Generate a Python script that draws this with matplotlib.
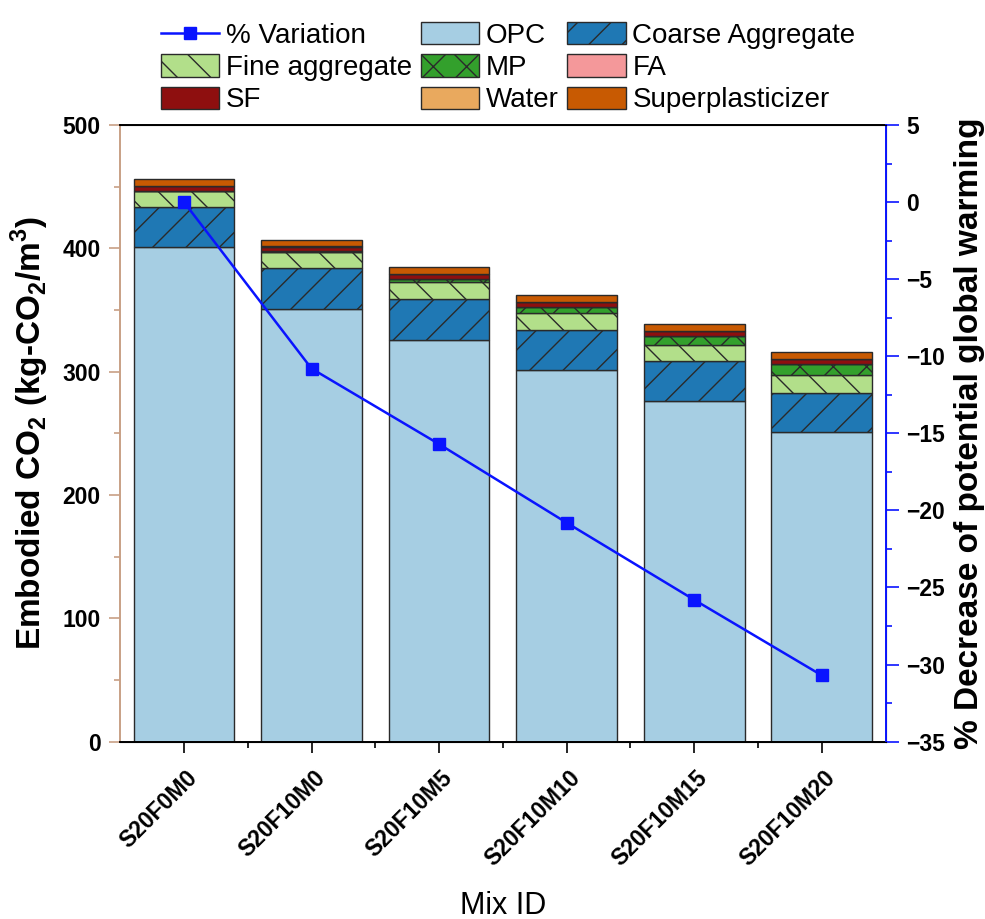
import numpy as np
import matplotlib
matplotlib.use("Agg")
import matplotlib.pyplot as plt
import matplotlib.transforms as mtransforms
from matplotlib.patches import Patch
from matplotlib.lines import Line2D
from matplotlib.ticker import MultipleLocator

plt.rcParams['font.family'] = ['Liberation Sans', 'DejaVu Sans']
plt.rcParams['mathtext.fontset'] = 'custom'
plt.rcParams['mathtext.rm'] = 'Liberation Sans'
plt.rcParams['mathtext.bf'] = 'Liberation Sans:bold'
plt.rcParams['hatch.linewidth'] = 1.0

# mixes
mix_ids = ["S20F0M0", "S20F10M0", "S20F10M5", "S20F10M10", "S20F10M15", "S20F10M20"]

# embodied CO2 per component (kg-CO2/m3)
opc = [401, 351, 326, 301, 276, 251]
coarse = [32.5, 32.7, 33, 33, 32.5, 32]
fine = [13.2, 13.5, 13.8, 13.5, 13.5, 14]
mp = [0, 0, 2.3, 4.6, 6.9, 9.2]
fa = [0, 0.4, 0.4, 0.4, 0.4, 0.4]
sf = [3.8, 3.8, 3.8, 3.8, 3.8, 3.8]
water = [0.2, 0.2, 0.2, 0.2, 0.2, 0.2]
superplast = [5.3, 5.3, 5.3, 5.3, 5.3, 5.3]

# % decrease of potential global warming
variation = [0, -10.8, -15.7, -20.8, -25.8, -30.7]

components = [
    ("OPC", opc, "#a6cee3", ""),
    ("Coarse Aggregate", coarse, "#1f78b4", "/"),
    ("Fine aggregate", fine, "#b2df8a", "\\"),
    ("MP", mp, "#33a02c", "x"),
    ("FA", fa, "#f4989a", ""),
    ("SF", sf, "#8e0f0f", ""),
    ("Water", water, "#e9a95e", ""),
    ("Superplasticizer", superplast, "#c85a02", ""),
]

fig = plt.figure(figsize=(9.85, 9.19), dpi=100)
ax = fig.add_axes([0.122, 0.193, 0.777, 0.671])

x = np.arange(len(mix_ids))
bottom = np.zeros(len(mix_ids))
handles = {}
for name, vals, color, hatch in components:
    vals = np.array(vals, dtype=float)
    ax.bar(x, vals, 0.79, bottom=bottom, color=color, edgecolor="#2a2a2a",
           linewidth=1.0, hatch=hatch, zorder=2)
    handles[name] = Patch(facecolor=color, edgecolor="#2a2a2a", hatch=hatch, linewidth=1.0)
    bottom += vals

tan = "#c8a085"
blue = "#0a14ff"

ax.set_xlim(-0.5, len(mix_ids) - 0.5)
ax.set_ylim(0, 500)
ax.yaxis.set_major_locator(MultipleLocator(100))
ax.yaxis.set_minor_locator(MultipleLocator(50))
ax.set_xticks(x)
ax.set_xticks(x[:-1] + 0.5, minor=True)
ax.set_xticklabels([])
# rotated mix labels, top-right corner a bit to the right of each tick
offset = mtransforms.ScaledTranslation(0.18, -0.25, fig.dpi_scale_trans)
for xi, name in zip(x, mix_ids):
    ax.text(xi, 0, name, transform=ax.get_xaxis_transform() + offset,
            rotation=45, ha="right", va="top", fontsize=16.5, fontweight="bold")
for lab in ax.get_yticklabels():
    lab.set_fontweight("bold")
ax.tick_params(axis="y", labelsize=16.5, length=8, width=1.2, color=tan, pad=6)
ax.tick_params(axis="y", which="minor", length=4, width=1.2, color=tan)
ax.tick_params(axis="x", length=8, width=1.2)
ax.tick_params(axis="x", which="minor", length=4, width=1.2)
ax.spines["left"].set_color(tan)
ax.spines["left"].set_linewidth(1.4)
for s in ["top", "bottom"]:
    ax.spines[s].set_linewidth(1.4)
ax.set_ylabel(r"Embodied CO$_\mathbf{2}$ (kg-CO$_\mathbf{2}$/m$^\mathbf{3}$)",
              fontsize=24, fontweight="bold", labelpad=8)
ax.set_xlabel("Mix ID", fontsize=22)
ax.xaxis.set_label_coords(0.5, -0.242)

ax2 = ax.twinx()
ax2.plot(x, variation, color=blue, linewidth=1.8, marker="s", markersize=9,
         zorder=5)
ax2.set_ylim(-35, 5)
ax2.yaxis.set_major_locator(MultipleLocator(5))
ax2.yaxis.set_minor_locator(MultipleLocator(2.5))
ax2.spines["right"].set_color(blue)
ax2.spines["right"].set_linewidth(1.4)
ax2.spines["left"].set_visible(False)
ax2.tick_params(axis="y", labelsize=16.5, length=9, width=1.2, color=blue, pad=6)
ax2.tick_params(axis="y", which="minor", length=4, width=1.2, color=blue)
for lab in ax2.get_yticklabels():
    lab.set_fontweight("bold")
ax2.set_ylabel("% Decrease of potential global warming", fontsize=24,
               fontweight="bold", labelpad=6)

var_handle = Line2D([0], [0], color=blue, linewidth=1.8, marker="s", markersize=9)
order = [
    ("% Variation", var_handle), ("Fine aggregate", handles["Fine aggregate"]), ("SF", handles["SF"]),
    ("OPC", handles["OPC"]), ("MP", handles["MP"]), ("Water", handles["Water"]),
    ("Coarse Aggregate", handles["Coarse Aggregate"]), ("FA", handles["FA"]),
    ("Superplasticizer", handles["Superplasticizer"]),
]
fig.legend([h for _, h in order], [n for n, _ in order], loc="upper center",
           bbox_to_anchor=(0.516, 1.0), ncol=3, frameon=False, fontsize=20,
           columnspacing=0.3, handletextpad=0.25, labelspacing=0.2,
           handlelength=2.1, handleheight=0.85, borderpad=0.3)

fig.savefig("out.png", dpi=100)
